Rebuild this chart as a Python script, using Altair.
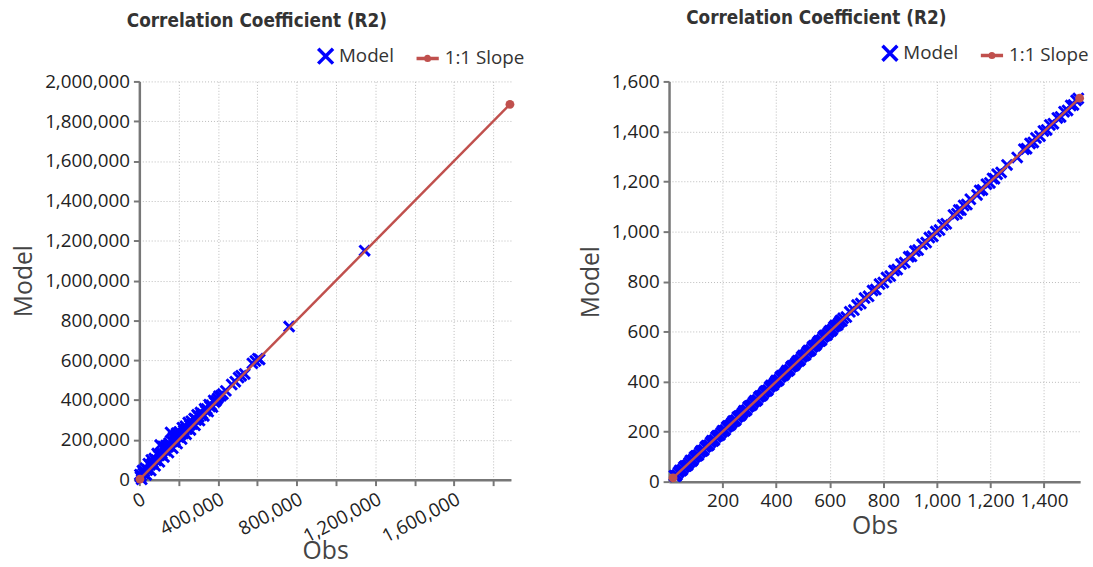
import altair as alt
import pandas as pd

# ---------------- data ----------------
left_obs = [
    3000, 9000, 16000, 24000, 31000, 39000, 46000, 54000, 61000, 69000,
    76000, 84000, 91000, 99000, 106000, 114000, 121000, 129000, 136000, 144000,
    151000, 159000, 166000, 174000, 181000, 189000, 196000, 204000, 211000, 219000,
    226000, 234000, 241000, 249000, 256000, 264000, 271000, 279000, 286000, 294000,
    302000, 311000, 321000, 332000, 343000, 355000, 366000, 378000, 391000, 405000,
    425000, 440000, 470000, 488000, 505000, 518000, 536000, 575000, 590000, 603000,
    612000, 762000, 1146000, 12000, 35000, 58000, 80000, 102000, 125000, 148000,
    170000, 192000, 215000, 238000, 260000, 283000, 306000, 328000, 350000, 372000,
    6000, 20000, 42000, 65000, 88000, 110000, 133000, 155000, 178000, 200000,
    222000, 245000, 268000, 290000, 315000, 338000, 360000, 383000, 398000, 415000,
]
left_model = [
    25000, 21000, 46000, 42000, 57000, 49000, 80000, 74000, 99000, 85000,
    106000, 98000, 131000, 121000, 174000, 132000, 167000, 153000, 172000, 164000,
    183000, 237000, 192000, 214000, 199000, 233000, 218000, 240000, 227000, 261000,
    246000, 268000, 255000, 287000, 274000, 294000, 283000, 307000, 302000, 326000,
    316000, 337000, 331000, 356000, 355000, 377000, 374000, 398000, 397000, 419000,
    430000, 446000, 478000, 492000, 513000, 522000, 531000, 584000, 596000, 608000,
    604000, 769000, 1150000, 2000, 24000, 46000, 70000, 90000, 114000, 136000,
    158000, 181000, 204000, 228000, 250000, 273000, 297000, 320000, 342000, 365000,
    14000, 32000, 50000, 80000, 98000, 125000, 146000, 170000, 190000, 214000,
    232000, 256000, 279000, 300000, 324000, 346000, 368000, 390000, 408000, 422000,
]
right_obs = [
    20, 30, 40, 50, 60, 70, 80, 90, 100, 110,
    120, 130, 140, 150, 160, 170, 180, 190, 200, 210,
    220, 230, 240, 250, 260, 270, 280, 290, 300, 310,
    320, 330, 340, 350, 360, 370, 380, 390, 400, 410,
    420, 430, 440, 450, 460, 470, 480, 490, 500, 510,
    520, 530, 540, 550, 560, 570, 580, 590, 600, 610,
    620, 630, 640, 650, 662, 675, 690, 702, 716, 730,
    745, 760, 772, 786, 800, 812, 826, 840, 852, 866,
    880, 895, 905, 918, 930, 945, 960, 972, 985, 996,
    1010, 1022, 1035, 1062, 1075, 1082, 1090, 1100, 1112, 1125,
    1150, 1160, 1170, 1185, 1198, 1208, 1215, 1225, 1240, 1262,
    1300, 1325, 1335, 1348, 1360, 1370, 1385, 1398, 1410, 1422,
    1435, 1450, 1462, 1475, 1488, 1500, 1510, 1520, 1528,
    25, 35, 45, 55, 65, 75, 85, 95, 105, 115,
    125, 135, 145, 155, 165, 175, 185, 195, 205, 215,
    225, 235, 245, 255, 265, 275, 285, 295, 305, 315,
    325, 335, 345, 355, 365, 375, 385, 395, 405, 415,
    425, 435, 445, 455, 465, 475, 485, 495, 505, 515,
    525, 535, 545, 555, 565, 575, 585, 595, 605, 615,
    625, 635, 645,
]
right_model = [
    24, 27, 45, 48, 63, 67, 85, 88, 103, 107,
    124, 127, 144, 147, 164, 167, 184, 187, 204, 207,
    223, 228, 243, 247, 262, 268, 284, 287, 303, 308,
    324, 327, 343, 348, 363, 367, 384, 387, 404, 407,
    423, 428, 444, 447, 463, 468, 483, 487, 504, 507,
    524, 527, 543, 548, 563, 567, 584, 587, 603, 608,
    624, 627, 644, 653, 658, 679, 686, 706, 712, 734,
    741, 764, 768, 790, 796, 816, 822, 844, 848, 870,
    876, 899, 901, 922, 926, 949, 956, 976, 981, 1000,
    1006, 1026, 1031, 1066, 1071, 1086, 1086, 1104, 1108, 1129,
    1146, 1164, 1166, 1189, 1194, 1212, 1211, 1229, 1236, 1266,
    1296, 1329, 1331, 1352, 1356, 1374, 1381, 1402, 1406, 1426,
    1431, 1454, 1458, 1479, 1484, 1504, 1506, 1524, 1532,
    22, 37, 44, 58, 63, 76, 82, 98, 104, 117,
    122, 138, 143, 157, 162, 178, 184, 196, 202, 218,
    224, 236, 242, 258, 263, 276, 282, 298, 304, 317,
    322, 338, 343, 357, 362, 378, 384, 396, 402, 418,
    424, 436, 442, 458, 463, 476, 482, 498, 504, 517,
    522, 538, 543, 557, 562, 578, 584, 596, 602, 618,
    624, 636, 642,
]
left_line_obs = [3000, 1885000]
left_line_model = [3000, 1885000]
right_line_obs = [15, 1533]
right_line_model = [15, 1533]

series_names = ["Model", "1:1 Slope"]
series_colors = ["#0000ff", "#c0504d"]

left_x_ticks = [0, 200000, 400000, 600000, 800000, 1000000, 1200000, 1400000, 1600000, 1800000]
left_y_ticks = [0, 200000, 400000, 600000, 800000, 1000000, 1200000, 1400000, 1600000, 1800000, 2000000]
right_x_ticks = [200, 400, 600, 800, 1000, 1200, 1400]
right_y_ticks = [0, 200, 400, 600, 800, 1000, 1200, 1400, 1600]

TITLE = "Correlation Coefficient (R2)"
X_PATH = "M-1,-1L1,1M-1,1L1,-1"
SLOPE_PATH = "M-2,0L1,0M-0.25,0A0.25,0.25 0 1,1 -0.75,0A0.25,0.25 0 1,1 -0.25,0"
RED = "#c0504d"
FONT = "Open Sans"


def panel(obs, model, lobs, lmodel, xdom, ydom, xticks, yticks, w, h,
          label_expr, label_angle, title_dx, leg_x, leg_y, x_title_pad):
    pts = pd.DataFrame({"Obs": obs, "Model": model, "series": ["Model"] * len(obs)})
    line = pd.DataFrame({"Obs": lobs, "Model": lmodel})
    xaxis = dict(values=xticks, format=",d", labelAngle=label_angle, title="Obs",
                 titlePadding=x_title_pad, labelOverlap=False)
    if label_expr:
        xaxis["labelExpr"] = label_expr
    if label_angle != 0:
        xaxis["labelAlign"] = "right"
        xaxis["labelBaseline"] = "top"
    x = alt.X("Obs:Q", scale=alt.Scale(domain=xdom, nice=False, zero=False),
              axis=alt.Axis(**xaxis))
    y = alt.Y("Model:Q", scale=alt.Scale(domain=ydom, nice=False, zero=False),
              axis=alt.Axis(values=yticks, format=",d", title="Model", titlePadding=8))
    legend = alt.Legend(orient="none", legendX=leg_x, legendY=leg_y, direction="horizontal",
                        title=None, labelFont=FONT, labelFontSize=19, labelColor="#333",
                        symbolSize=225, symbolStrokeWidth=3.5, symbolOpacity=1,
                        columnPadding=15, labelOffset=4, padding=0)
    p = alt.Chart(pts).mark_point(filled=False, strokeWidth=3, size=110, opacity=1).encode(
        x=x, y=y,
        color=alt.Color("series:N", scale=alt.Scale(domain=series_names, range=series_colors), legend=legend),
        shape=alt.Shape("series:N", scale=alt.Scale(domain=series_names, range=[X_PATH, SLOPE_PATH]), legend=legend),
    )
    ln = alt.Chart(line).mark_line(color=RED, strokeWidth=2.5).encode(x="Obs:Q", y="Model:Q")
    ends = alt.Chart(line).mark_circle(color=RED, size=80, opacity=1).encode(x="Obs:Q", y="Model:Q")
    return alt.layer(p, ln, ends).properties(
        width=w, height=h,
        title=alt.TitleParams(TITLE, anchor="middle", frame="group", dx=title_dx,
                              font="DejaVu Sans Condensed", fontSize=19, fontWeight="bold",
                              color="#333", offset=16),
    )


left = panel(left_obs, left_model, left_line_obs, left_line_model,
             [0, 1890000], [0, 2000000], left_x_ticks, left_y_ticks, 376, 403,
             "datum.value % 400000 === 0 ? datum.label : ''", -28, -69, 179, -35, -7)
right = panel(right_obs, right_model, right_line_obs, right_line_model,
              [0, 1535], [0, 1600], right_x_ticks, right_y_ticks, 416, 405,
              None, 0, -59, 214, -38, 3)

chart = alt.hconcat(left, right, spacing=54).resolve_scale(
    color="independent", shape="independent"
).resolve_legend(color="independent", shape="independent").properties(
    padding={"left": 12, "top": 6, "right": 3, "bottom": 2}
).configure_view(stroke=None).configure_axis(
    domainColor="#777", domainWidth=2.5, tickColor="#777", tickWidth=2, tickSize=6,
    gridColor="#bbb", gridDash=[1, 2], gridWidth=1,
    labelFont=FONT, labelFontSize=19, labelColor="#222", labelPadding=4,
    titleFont=FONT, titleFontSize=25, titleColor="#444", titleFontWeight="normal",
)

chart.save("out.html", embed_options={"renderer": "svg", "actions": False})
